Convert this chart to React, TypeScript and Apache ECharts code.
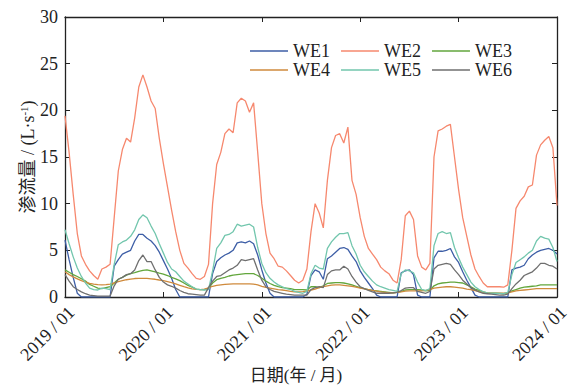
import React, { useEffect, useRef } from 'react';
import * as echarts from 'echarts';

// semi-monthly sample dates 2019/01/01 .. 2024/01/01
const dates: string[] = [];
for (let y = 2019; y <= 2023; y++) {
  for (let m = 1; m <= 12; m++) {
    const mm = m < 10 ? '0' + m : '' + m;
    dates.push(`${y}/${mm}/01`);
    dates.push(`${y}/${mm}/16`);
  }
}
dates.push('2024/01/01');

const seriesNames = ['WE1', 'WE2', 'WE3', 'WE4', 'WE5', 'WE6'];
const colors = ['#3d5ea6', '#f6886e', '#62a63c', '#cf8a3c', '#72c6ad', '#6f6f6f'];

const we1 = [
  6.1, 4.0, 2.1, 0.4, 0, 0, 0, 0, 0, 0, 0, 0,
  3.3, 4.0, 4.6, 4.8, 5.0, 6.0, 6.7, 6.7, 6.3, 6.0, 5.5, 4.8,
  3.9, 3.0, 2.0, 0.8, 0, 0, 0, 0, 0, 0, 0, 0,
  2.5, 3.8, 4.2, 4.5, 4.7, 5.0, 5.8, 5.9, 5.8, 6.0, 5.7, 4.5,
  2.9, 1.5, 0.4, 0, 0, 0, 0, 0, 0, 0, 0, 0.3,
  2.3, 2.9, 2.7, 1.9, 4.1, 4.4, 4.8, 5.2, 5.3, 5.1, 4.4, 3.8,
  2.8, 2.1, 1.5, 0.9, 0.2, 0, 0, 0, 0, 0, 2.6, 2.8,
  2.9, 2.4, 0.2, 0, 0, 0, 4.2, 4.9, 4.9, 5.0, 5.2, 4.3,
  3.7, 2.7, 1.8, 1.0, 0.2, 0, 0, 0, 0, 0, 0, 0,
  0, 2.9, 3.1, 3.2, 3.4, 4.1, 4.5, 4.8, 5.0, 5.1, 5.2, 5.0,
  4.6,
];
const we2 = [
  19.4, 15.5, 11.0, 6.8, 4.4, 3.5, 2.8, 2.3, 1.9, 3.0, 3.2, 3.5,
  8.5, 13.5, 15.8, 17.0, 16.6, 19.2, 22.5, 23.8, 22.5, 21.0, 20.2, 17.0,
  14.3, 11.8, 9.3, 7.0, 5.0, 3.6, 3.1, 2.5, 2.0, 1.9, 2.2, 3.5,
  10.0, 14.2, 15.5, 17.5, 18.0, 17.6, 20.8, 21.3, 21.0, 19.8, 20.8, 15.5,
  10.0, 6.8, 4.7, 4.1, 3.3, 3.2, 2.8, 2.3, 1.8, 1.5, 1.8, 3.0,
  7.0, 10.0, 9.0, 7.4, 12.5, 16.0, 17.3, 17.5, 16.5, 18.2, 12.5, 11.0,
  8.5, 6.5, 5.2, 4.6, 4.0, 3.2, 2.8, 2.5, 1.8, 1.5, 4.0, 8.7,
  9.2, 8.3, 4.4, 3.2, 2.9, 3.6, 15.0, 17.8, 18.0, 18.3, 18.5, 15.0,
  11.5, 8.5, 6.5, 4.5, 3.0, 2.2, 1.5, 1.1, 1.1, 1.1, 1.1, 1.05,
  1.3, 5.0, 9.5, 10.3, 10.8, 11.8, 12.0, 15.2, 16.3, 16.8, 17.2, 16.0,
  9.8,
];
const we3 = [
  2.9, 2.65, 2.4, 2.2, 1.95, 1.7, 1.35, 1.15, 0.95, 0.9, 1.0, 1.1,
  1.5, 1.9, 2.1, 2.35, 2.5, 2.6, 2.75, 2.85, 2.9, 2.8, 2.7, 2.55,
  2.45, 2.3, 2.1, 1.95, 1.75, 1.5, 1.25, 1.05, 0.85, 0.8, 0.8, 0.95,
  1.5, 1.85, 2.0, 2.1, 2.25, 2.35, 2.4, 2.45, 2.5, 2.5, 2.5, 2.3,
  2.0, 1.7, 1.45, 1.25, 1.1, 1.0, 0.95, 0.9, 0.8, 0.8, 0.78, 0.75,
  1.1, 1.1, 1.0, 1.2, 1.45, 1.5, 1.55, 1.55, 1.5, 1.4, 1.3, 1.15,
  1.0, 0.9, 0.8, 0.7, 0.65, 0.6, 0.55, 0.5, 0.45, 0.5, 0.6, 0.75,
  0.8, 0.8, 0.8, 0.75, 0.65, 0.7, 1.2, 1.4, 1.5, 1.55, 1.6, 1.6,
  1.55, 1.5, 1.3, 1.1, 0.85, 0.7, 0.55, 0.45, 0.4, 0.4, 0.38, 0.35,
  0.45, 0.65, 0.8, 0.95, 1.05, 1.1, 1.15, 1.2, 1.3, 1.3, 1.3, 1.3,
  1.3,
];
const we4 = [
  2.7, 2.4, 2.15, 1.95, 1.75, 1.6, 1.45, 1.38, 1.32, 1.3, 1.32, 1.38,
  1.5, 1.65, 1.75, 1.85, 1.92, 1.98, 2.0, 2.0, 2.0, 1.95, 1.9, 1.82,
  1.75, 1.65, 1.55, 1.4, 1.25, 1.1, 0.98, 0.88, 0.82, 0.8, 0.85, 0.98,
  1.15, 1.25, 1.3, 1.35, 1.38, 1.4, 1.4, 1.4, 1.4, 1.4, 1.38, 1.3,
  1.15, 1.02, 0.95, 0.88, 0.8, 0.75, 0.68, 0.6, 0.55, 0.55, 0.58, 0.63,
  0.75, 0.85, 1.0, 1.1, 1.2, 1.28, 1.3, 1.3, 1.25, 1.2, 1.15, 1.05,
  0.95, 0.88, 0.8, 0.7, 0.62, 0.55, 0.5, 0.45, 0.45, 0.5, 0.55, 0.62,
  0.65, 0.65, 0.65, 0.65, 0.7, 0.8, 0.95, 1.0, 1.05, 1.1, 1.1, 1.05,
  1.0, 0.95, 0.85, 0.78, 0.68, 0.58, 0.5, 0.45, 0.42, 0.4, 0.4, 0.4,
  0.45, 0.55, 0.65, 0.7, 0.75, 0.8, 0.85, 0.9, 0.9, 0.9, 0.9, 0.9,
  0.9,
];
const we5 = [
  7.2, 5.7, 4.3, 3.1, 2.2, 1.5, 0.95, 0.8, 0.75, 0.95, 0.9, 0.8,
  3.5, 5.6, 5.9, 6.1, 6.5, 7.2, 8.3, 8.8, 8.5, 7.6, 6.8, 5.7,
  4.7, 3.7, 3.0, 2.7, 2.2, 1.7, 1.4, 1.1, 0.85, 0.8, 0.75, 0.8,
  2.8, 5.2, 5.8, 6.6, 6.7, 7.0, 7.8, 7.6, 7.7, 7.8, 7.5, 5.3,
  3.6, 2.6, 2.0, 1.6, 1.3, 1.1, 0.9, 0.8, 0.6, 0.5, 0.4, 0.6,
  2.5, 3.4, 3.1, 3.0, 5.2, 5.9, 6.4, 6.8, 6.8, 6.9, 5.5, 4.6,
  3.4, 2.7, 2.2, 1.7, 1.3, 1.1, 0.95, 0.8, 0.7, 0.6, 2.5, 2.9,
  2.8, 2.6, 1.6, 0.8, 0.7, 0.9, 5.5, 6.8, 7.0, 6.8, 6.9, 5.3,
  4.2, 3.2, 2.4, 1.6, 1.1, 0.8, 0.55, 0.45, 0.4, 0.4, 0.38, 0.35,
  0.5, 2.4, 3.7, 4.0, 4.3, 4.7, 5.0, 6.0, 6.5, 6.3, 6.2, 5.3,
  3.8,
];
const we6 = [
  2.4, 1.7, 1.1, 0.8, 0.55, 0.35, 0.2, 0.15, 0.1, 0.1, 0.1, 0.1,
  1.2, 1.9, 2.1, 2.4, 2.5, 2.9, 3.9, 4.5, 3.8, 3.8, 2.9, 2.1,
  1.6, 1.3, 1.15, 0.95, 0.7, 0.5, 0.35, 0.3, 0.25, 0.2, 0.2, 1.0,
  1.7, 2.2, 2.3, 2.6, 2.9, 3.1, 3.4, 4.0, 3.9, 4.0, 4.1, 2.9,
  1.8, 1.1, 0.8, 0.6, 0.5, 0.4, 0.3, 0.25, 0.2, 0.2, 0.2, 0.2,
  0.8, 1.0, 1.1, 1.0, 2.4, 2.8, 2.9, 2.9, 3.3, 3.0, 2.2, 1.6,
  1.1, 0.9, 0.7, 0.55, 0.4, 0.4, 0.4, 0.4, 0.45, 0.5, 0.7, 0.95,
  1.0, 1.0, 0.6, 0.5, 0.4, 0.6, 3.0, 3.4, 3.5, 3.6, 3.5, 2.9,
  2.4, 1.8, 1.4, 1.0, 0.75, 0.55, 0.4, 0.35, 0.3, 0.25, 0.2, 0.2,
  0.3, 0.9, 1.4, 1.8, 2.3, 2.5, 2.7, 3.1, 3.6, 3.6, 3.4, 3.3,
  3.0,
];
const allValues = [we1, we2, we3, we4, we5, we6];

const yMin = 0;
const yMax = 30;
const yInterval = 5;

const FONT = "'Liberation Serif', 'Times New Roman', 'Noto Sans CJK SC', serif";
const AXIS_COLOR = '#222';
const LINE_ICON = 'path://M0,0 L38,0 L38,1.4 L0,1.4 Z';

export default function App() {
  const ref = useRef<HTMLDivElement>(null);
  useEffect(() => {
    if (!ref.current) return;
    const chart = echarts.init(ref.current, undefined, { renderer: 'svg' });
    const axisLine = { show: true, onZero: false, lineStyle: { color: AXIS_COLOR, width: 1.3 } };
    const legendCommon = {
      left: 245,
      icon: LINE_ICON,
      itemWidth: 38,
      itemHeight: 1.4,
      itemGap: 11,
      textStyle: { fontFamily: FONT, fontSize: 18, color: '#222' },
    };
    const option: any = {
      animation: false,
      backgroundColor: '#fff',
      textStyle: { fontFamily: FONT },
      grid: { left: 65, right: 14, top: 17, bottom: 90, containLabel: false, outerBoundsMode: 'none' },
      legend: [
        { ...legendCommon, data: seriesNames.slice(0, 3), top: 37 },
        { ...legendCommon, data: seriesNames.slice(3, 6), top: 56 },
      ],
      xAxis: [
        {
          type: 'category',
          data: dates,
          boundaryGap: false,
          axisLine,
          axisTick: { show: true, inside: true, length: 5, interval: 23, lineStyle: { color: AXIS_COLOR } },
          axisLabel: {
            interval: 23,
            rotate: 45,
            margin: 6,
            verticalAlign: 'top',
            fontFamily: FONT,
            fontSize: 18,
            color: '#222',
            formatter: (v: string) => v.slice(0, 4) + ' / ' + v.slice(5, 7),
          },
          splitLine: { show: false },
          name: '日期(年 / 月)',
          nameLocation: 'middle',
          nameMoveOverlap: false,
          nameGap: 70,
          nameTextStyle: { fontFamily: FONT, fontSize: 17, color: '#222', padding: [0, 30, 0, 0] },
        },
        {
          type: 'category',
          data: dates,
          boundaryGap: false,
          position: 'top',
          axisLine,
          axisTick: { show: true, inside: true, length: 5, interval: 23, lineStyle: { color: AXIS_COLOR } },
          axisLabel: { show: false },
          splitLine: { show: false },
        },
      ],
      yAxis: [
        {
          type: 'value',
          min: yMin,
          max: yMax,
          interval: yInterval,
          axisLine,
          axisTick: { show: true, inside: true, length: 5, lineStyle: { color: AXIS_COLOR } },
          axisLabel: { margin: 7, fontFamily: FONT, fontSize: 18, color: '#222' },
          splitLine: { show: false },
          name: '渗流量 / (L·s{sup|-1})',
          nameLocation: 'middle',
          nameMoveOverlap: false,
          nameGap: 27,
          nameTextStyle: {
            fontFamily: FONT,
            fontSize: 18,
            color: '#222',
            rich: {
              sup: { fontFamily: FONT, fontSize: 11, color: '#222', verticalAlign: 'top', lineHeight: 20 },
            },
          },
        },
        {
          type: 'value',
          min: yMin,
          max: yMax,
          interval: yInterval,
          position: 'right',
          axisLine,
          axisTick: { show: true, inside: true, length: 5, lineStyle: { color: AXIS_COLOR } },
          axisLabel: { show: false },
          splitLine: { show: false },
        },
      ],
      series: seriesNames.map((name, k) => ({
        name,
        type: 'line',
        data: allValues[k],
        xAxisIndex: 0,
        yAxisIndex: 0,
        symbol: 'none',
        showSymbol: false,
        color: colors[k],
        itemStyle: { color: colors[k] },
        lineStyle: { color: colors[k], width: 1.3 },
        z: k === 1 ? 2 : 3,
      })),
    };
    chart.setOption(option);
    return () => chart.dispose();
  }, []);
  return (
    <div
      ref={ref}
      style={{ position: 'fixed', left: 0, top: 0, width: 571, height: 387, background: '#fff' }}
    />
  );
}
